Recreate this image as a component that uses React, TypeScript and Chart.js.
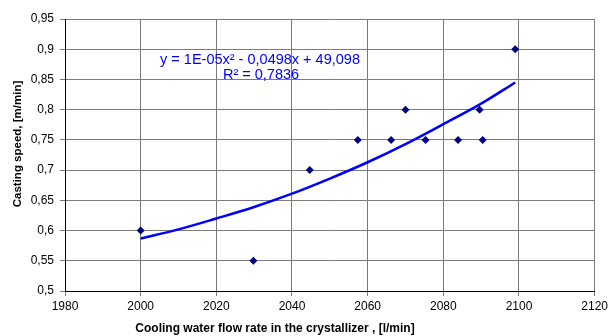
import React, { useEffect, useRef } from "react";
import { Chart, registerables } from "chart.js";

Chart.register(...registerables);

const flowRate = [2000, 2029.8, 2044.7, 2057.4, 2066.2, 2070, 2075.3, 2083.9, 2089.6, 2090.4, 2099];
const castingSpeed = [0.6, 0.55, 0.7, 0.75, 0.75, 0.8, 0.75, 0.75, 0.8, 0.75, 0.9];

const trendFlow = [2000, 2010, 2020, 2030, 2040, 2050, 2060, 2070, 2080, 2090, 2099];
const trendSpeed = [0.587, 0.602, 0.62, 0.639, 0.661, 0.686, 0.713, 0.743, 0.776, 0.81, 0.845];

const equationLines = ["y = 1E-05x\u00B2 - 0,0498x + 49,098", "R\u00B2 = 0,7836"];
const xTitle = "Cooling water flow rate in the crystallizer , [l/min]";
const yTitle = "Casting speed, [m/min]";

const FONT = "'Liberation Sans', Arial, sans-serif";

const textPlugin = {
  id: "texts",
  afterDraw(chart: any) {
    const ctx = chart.ctx;
    const a = chart.chartArea;
    ctx.save();
    ctx.fillStyle = "#0000ff";
    ctx.font = `14.5px ${FONT}`;
    ctx.textAlign = "center";
    ctx.textBaseline = "middle";
    ctx.fillText(equationLines[0], a.left + 195, a.top + 41);
    ctx.fillText(equationLines[1], a.left + 196, a.top + 56);

    ctx.fillStyle = "#000";
    ctx.font = `bold 12px ${FONT}`;
    ctx.fillText(xTitle, a.left + 210, a.bottom + 38);

    ctx.translate(18, a.top + 125);
    ctx.rotate(-Math.PI / 2);
    ctx.font = `bold 11.5px ${FONT}`;
    ctx.fillText(yTitle, 0, 0);
    ctx.restore();
  },
};

export default function App() {
  const ref = useRef<HTMLCanvasElement>(null);
  useEffect(() => {
    if (!ref.current) return;
    const chart = new Chart(ref.current, {
      type: "scatter",
      data: {
        datasets: [
          {
            label: "trend",
            data: trendFlow.map((x, i) => ({ x, y: trendSpeed[i] })),
            showLine: true,
            borderColor: "#0000ff",
            borderWidth: 2.5,
            pointRadius: 0,
            tension: 0.4,
            cubicInterpolationMode: "monotone",
            fill: false,
          } as any,
          {
            label: "data",
            data: flowRate.map((x, i) => ({ x, y: castingSpeed[i] })),
            pointStyle: "rectRot",
            pointRadius: 4,
            backgroundColor: "#000080",
            borderColor: "#000080",
            borderWidth: 0,
          },
        ],
      },
      options: {
        animation: false,
        responsive: false,
        devicePixelRatio: 1,
        layout: { padding: { top: 19, right: 14, left: 0, bottom: 0 } },
        plugins: { legend: { display: false }, tooltip: { enabled: false } },
        scales: {
          x: {
            type: "linear",
            min: 1980,
            max: 2120,
            ticks: {
              stepSize: 20,
              padding: 3,
              color: "#000",
              font: { family: FONT, size: 12 },
              callback: (v: any) => String(v),
            },
            grid: { color: "#7a7a7a", lineWidth: 1, tickLength: 5 },
            border: { color: "#000", width: 1 },
            afterFit: (s: any) => {
              s.height = 45;
            },
          },
          y: {
            type: "linear",
            min: 0.5,
            max: 0.95,
            ticks: {
              stepSize: 0.05,
              padding: 6,
              color: "#000",
              font: { family: FONT, size: 12 },
              callback: (v: any) => Number(Number(v).toFixed(2)).toString().replace(".", ","),
            },
            grid: { color: "#7a7a7a", lineWidth: 1, tickLength: 5 },
            border: { color: "#000", width: 1 },
            afterFit: (s: any) => {
              s.width = 65;
            },
          },
        },
      },
      plugins: [textPlugin],
    });
    return () => chart.destroy();
  }, []);
  return (
    <div style={{ position: "fixed", left: 0, top: 0, width: 611, height: 336, background: "#fff" }}>
      <canvas ref={ref} width={611} height={336} />
    </div>
  );
}
